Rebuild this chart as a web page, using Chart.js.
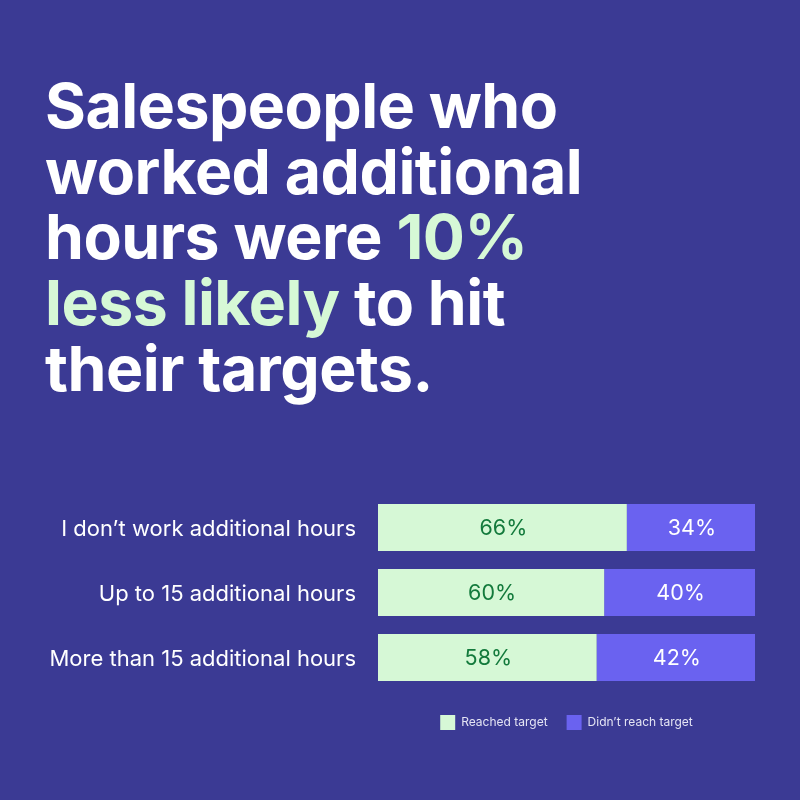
<!DOCTYPE html>
<html>
<head>
<meta charset="utf-8">
<script src="https://cdn.jsdelivr.net/npm/chart.js@4/dist/chart.umd.min.js"></script>
<style>
  html, body { margin: 0; padding: 0; background: #3b3a94; }
  #wrap { position: relative; width: 800px; height: 800px; overflow: hidden; }
  #title {
    position: absolute; left: 45px; top: 73px; margin: 0;
    font-family: Inter, "Noto Sans", sans-serif; font-weight: 700;
    font-size: 62.5px; line-height: 65.7px; color: #ffffff; letter-spacing: -0.5px;
  }
  #title .hl { color: #d6f8d6; }
  #c { position: absolute; left: 0; top: 0; }
</style>
</head>
<body>
<div id="wrap">
  <h1 id="title">Salespeople who<br>worked additional<br>hours were <span class="hl">10%</span><br><span class="hl">less likely</span> to hit<br>their targets.</h1>
  <canvas id="c" width="800" height="800"></canvas>
</div>
<script>
const categories = ["I don\u2019t work additional hours", "Up to 15 additional hours", "More than 15 additional hours"];
const reachedTarget = [66, 60, 58];
const didntReachTarget = [34, 40, 42];
const seriesNames = ["Reached target", "Didn\u2019t reach target"];

const FONT = "Inter, 'Noto Sans', sans-serif";

const barLabels = {
  id: 'barLabels',
  afterDatasetsDraw(chart) {
    const ctx = chart.ctx;
    ctx.save();
    ctx.font = "400 21.5px " + FONT;
    ctx.textAlign = 'center';
    ctx.textBaseline = 'middle';
    chart.data.datasets.forEach((ds, i) => {
      const meta = chart.getDatasetMeta(i);
      meta.data.forEach((el, j) => {
        const p = el.getProps(['x', 'y', 'base'], true);
        ctx.fillStyle = i === 0 ? '#137a3c' : '#ffffff';
        ctx.fillText(ds.data[j] + '%', (p.x + p.base) / 2 + 1, p.y + 1);
      });
    });
    ctx.restore();
  }
};

const legendPlace = {
  id: 'legendPlace',
  afterLayout(chart) {
    const lg = chart.legend;
    if (!lg) return;
    const h = lg.bottom - lg.top;
    lg.left = chart.chartArea.left;
    lg.right = chart.chartArea.right;
    lg.top = 696;
    lg.bottom = lg.top + h;
  }
};

new Chart(document.getElementById('c'), {
  type: 'bar',
  data: {
    labels: categories,
    datasets: [
      { label: seriesNames[0], data: reachedTarget, backgroundColor: '#d6f8d6', borderWidth: 0 },
      { label: seriesNames[1], data: didntReachTarget, backgroundColor: '#6a62f0', borderWidth: 0 }
    ]
  },
  options: {
    indexAxis: 'y',
    responsive: false,
    animation: false,
    categoryPercentage: 0.725,
    barPercentage: 1,
    layout: { padding: { left: 45, right: 45, top: 495, bottom: 66 } },
    scales: {
      x: { stacked: true, min: 0, max: 100, display: false },
      y: {
        stacked: true,
        grid: { display: false },
        border: { display: false },
        ticks: { color: '#ffffff', font: { family: FONT, size: 22 }, padding: 14, crossAlign: 'near', labelOffset: 2 },
        afterFit(scale) { scale.width = 333; }
      }
    },
    plugins: {
      legend: {
        position: 'bottom',
        labels: {
          boxWidth: 15, boxHeight: 15, padding: 19,
          color: '#e4e4f4',
          font: { family: FONT, size: 12 }
        }
      },
      tooltip: { enabled: false }
    }
  },
  plugins: [barLabels, legendPlace]
});
</script>
</body>
</html>
